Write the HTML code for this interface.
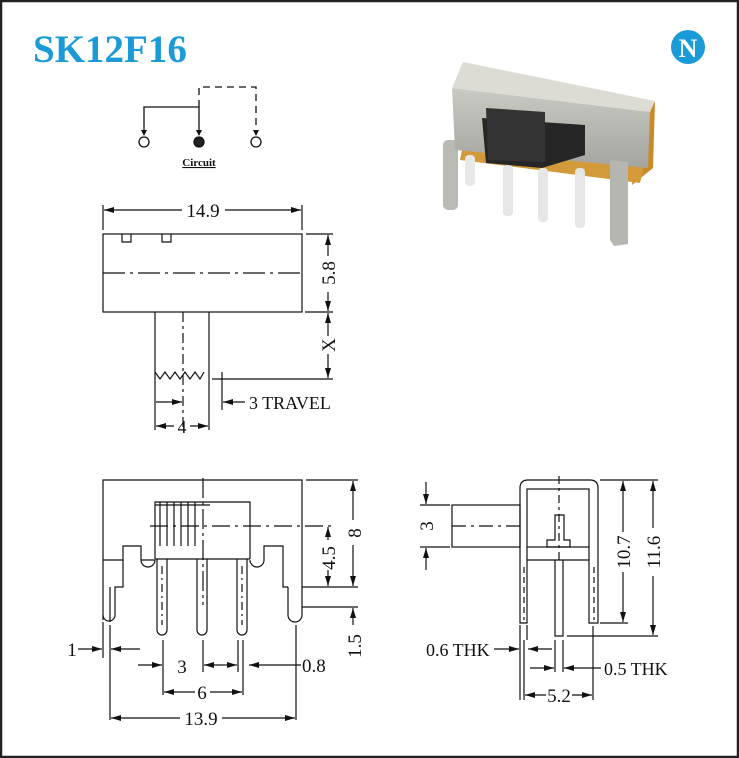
<!DOCTYPE html>
<html><head><style>
html,body{margin:0;padding:0;background:#fff;}
svg{display:block;}
text{font-family:"Liberation Serif",serif;fill:#111;}
</style></head><body>
<svg width="739" height="758" viewBox="0 0 739 758" xmlns="http://www.w3.org/2000/svg">
<defs>
<marker id="a" viewBox="0 0 10 6" refX="10" refY="3" markerWidth="10" markerHeight="6" orient="auto-start-reverse" markerUnits="userSpaceOnUse"><path d="M0,0L10,3L0,6z" fill="#111"/></marker>
<linearGradient id="m" x1="0" y1="0" x2="0" y2="1"><stop offset="0" stop-color="#c9cac3"/><stop offset="1" stop-color="#a4a59e"/></linearGradient>
</defs>
<rect x="1" y="1" width="737" height="756" fill="#fff" stroke="#222" stroke-width="2.5"/>
<text x="33" y="62" font-size="39" font-weight="bold" style="fill:#1a9ad6">SK12F16</text>
<circle cx="688" cy="47" r="17" fill="#1a9ad6"/>
<text x="688" y="57" font-size="26" font-weight="bold" text-anchor="middle" style="fill:#fff">N</text>

<g stroke="#111" stroke-width="1.3" fill="none">
<path d="M144,130V107H199V130"/>
<path d="M199,107V87H256V130" stroke-dasharray="7,5"/>
<circle cx="144" cy="142" r="5"/><circle cx="199" cy="142" r="5" fill="#222"/><circle cx="256" cy="142" r="5"/>
</g>
<path d="M141,130l3,6l3,-6z M196,130l3,6l3,-6z M253,130l3,6l3,-6z" fill="#111"/>
<text x="199" y="166" font-size="11" font-weight="bold" text-anchor="middle" text-decoration="underline">Circuit</text>

<g>
<polygon points="640,112 655,102 653,168 632,185" fill="#c98a2a"/>
<polygon points="463,145 645,163 640,183 460,160" fill="#d39a3a"/>
<rect x="465" y="155" width="10" height="31" rx="4" fill="#e8e8e6"/>
<rect x="503" y="165" width="10" height="51" rx="4" fill="#e6e6e4"/>
<rect x="538" y="168" width="10" height="54" rx="4" fill="#e6e6e4"/>
<rect x="575" y="168" width="10" height="60" rx="4" fill="#e6e6e4"/>
<rect x="443" y="140" width="15" height="70" rx="5" fill="#b9bab4"/>
<polygon points="452,88 650,112 648,168 455,150" fill="url(#m)"/>
<polygon points="610,160 628,162 628,244 614,246 610,240" fill="#b5b6b0"/>
<polygon points="463,62 655,101 650,112 452,88" fill="#dcdcd5"/>
<polygon points="482,118 585,125 585,155 542,168 486,163" fill="#262626"/>
<polygon points="486,108 545,112 545,162 488,160" fill="#333"/>
</g>

<g stroke="#111" stroke-width="1.2" fill="none">
<rect x="103" y="234" width="199" height="78"/>
<path d="M122,234v8h9v-8 M162,234v8h9v-8"/>
<path d="M103,273H302" stroke-dasharray="22,5,3,5"/>
<path d="M103,205V230 M302,205V230"/>
<path d="M155,312V430 M209,312V430"/>
<path d="M183,312V430" stroke-dasharray="10,4,3,4"/>
<path d="M155,372l5,7l5,-7l5,7l5,-7l5,7l5,-7l5,7l5,-7l5,7l4,-7"/>
<path d="M306,234H333 M305,312H333 M212,379H333 M222,372V410"/>
</g>
<g stroke="#111" stroke-width="1.2">
<line x1="104" y1="210" x2="182" y2="210" marker-start="url(#a)"/>
<line x1="225" y1="210" x2="301" y2="210" marker-end="url(#a)"/>
<line x1="328" y1="235" x2="328" y2="256" marker-start="url(#a)"/>
<line x1="328" y1="292" x2="328" y2="311" marker-end="url(#a)"/>
<line x1="328" y1="313" x2="328" y2="336" marker-start="url(#a)"/>
<line x1="328" y1="354" x2="328" y2="378" marker-end="url(#a)"/>
<line x1="156" y1="402" x2="182" y2="402" marker-end="url(#a)"/>
<line x1="223" y1="402" x2="245" y2="402" marker-start="url(#a)"/>
<line x1="156" y1="426" x2="174" y2="426" marker-start="url(#a)"/>
<line x1="190" y1="426" x2="208" y2="426" marker-end="url(#a)"/>
</g>
<text x="203" y="217" font-size="19" text-anchor="middle">14.9</text>
<text transform="translate(335,273) rotate(-90)" font-size="19" text-anchor="middle">5.8</text>
<text transform="translate(335,345) rotate(-90)" font-size="19" text-anchor="middle">X</text>
<text x="249" y="409" font-size="18">3 TRAVEL</text>
<text x="182" y="433" font-size="18" text-anchor="middle">4</text>

<g stroke="#111" stroke-width="1.2" fill="none">
<path d="M103,620V480H302V560"/>
<path d="M155,559V502H250V559"/>
<path d="M160,502V546 M167,502V546 M174,502V546 M181,502V546 M188,502V546 M195,502V546"/>
<path d="M155,505H210"/>
<path d="M150,526H335" stroke-dasharray="18,5,3,5"/>
<path d="M203,478V605" stroke-dasharray="20,4,3,4"/>
<path d="M103,560H123V546H141V560 A7,7 0 0 0 155,560 M141,560H155 M250,560 A7,7 0 0 0 264,560 M264,560V546H283V587H288"/>
<path d="M123,560V587H115V615 A6,6 0 0 1 103,615 M110,587V622"/>
<path d="M288,587V615 A7,7 0 0 0 302,615V560"/>
<path d="M155,559H250"/>
<path d="M157,559V630 A5,5 0 0 0 167,630V559 M197,559V630 A5,5 0 0 0 207,630V559 M237,559V630 A5,5 0 0 0 247,630V559"/>
<path d="M242,566V625 M162,566V625" stroke-dasharray="8,4,2,4"/>
<path d="M306,480H358 M302,587H358 M302,607H358"/>
<path d="M103,622V658 M110,625V720 M163,640V695 M203,640V672 M243,640V695 M238,640V672 M296,625V720"/>
</g>
<g stroke="#111" stroke-width="1.2">
<line x1="353" y1="481" x2="353" y2="520" marker-start="url(#a)"/>
<line x1="353" y1="545" x2="353" y2="586" marker-end="url(#a)"/>
<line x1="328" y1="527" x2="328" y2="540" marker-start="url(#a)"/>
<line x1="328" y1="570" x2="328" y2="586" marker-end="url(#a)"/>
<line x1="353" y1="608" x2="353" y2="625" marker-start="url(#a)"/>
<line x1="78" y1="649" x2="102" y2="649" marker-end="url(#a)"/>
<line x1="140" y1="649" x2="111" y2="649" marker-end="url(#a)"/>
<line x1="138" y1="665" x2="162" y2="665" marker-end="url(#a)"/>
<line x1="204" y1="665" x2="222" y2="665" marker-start="url(#a)"/>
<line x1="222" y1="665" x2="237" y2="665" marker-end="url(#a)"/>
<line x1="301" y1="665" x2="249" y2="665" marker-end="url(#a)"/>
<line x1="164" y1="692" x2="195" y2="692" marker-start="url(#a)"/>
<line x1="210" y1="692" x2="242" y2="692" marker-end="url(#a)"/>
<line x1="111" y1="718" x2="180" y2="718" marker-start="url(#a)"/>
<line x1="222" y1="718" x2="295" y2="718" marker-end="url(#a)"/>
</g>
<text transform="translate(361,533) rotate(-90)" font-size="19" text-anchor="middle">8</text>
<text transform="translate(335,558) rotate(-90)" font-size="19" text-anchor="middle">4.5</text>
<text transform="translate(361,646) rotate(-90)" font-size="19" text-anchor="middle">1.5</text>
<text x="72" y="656" font-size="19" text-anchor="middle">1</text>
<text x="182" y="673" font-size="19" text-anchor="middle">3</text>
<text x="302" y="672" font-size="19">0.8</text>
<text x="202" y="699" font-size="19" text-anchor="middle">6</text>
<text x="201" y="725" font-size="19" text-anchor="middle">13.9</text>

<g stroke="#111" stroke-width="1.2" fill="none">
<path d="M520,623V488 Q520,480 528,480H590 Q598,480 598,488V623H589V560H527V623Z"/>
<rect x="527" y="489" width="62" height="58"/>
<path d="M527,547V560M589,547V560"/>
<rect x="452" y="505" width="68" height="42"/>
<path d="M452,526H520" stroke-dasharray="14,5,3,5"/>
<path d="M559,476V560" stroke-dasharray="8,4,3,4"/>
<path d="M555,515H564V540H570V547H547V540H555Z"/>
<path d="M555,560V636H563V560"/>
<path d="M524,567V620" stroke-dasharray="6,4"/>
<path d="M594,567V620" stroke-dasharray="6,4"/>
<path d="M420,505H450 M420,547H450"/>
<path d="M600,480H658 M600,623H628 M567,636H658"/>
<path d="M520,625V640 M527,625V640 M520,640V700 M524,640V700 M593,626V700 M555,640V672 M563,640V672"/>
</g>
<g stroke="#111" stroke-width="1.2">
<line x1="426" y1="482" x2="426" y2="504" marker-end="url(#a)"/>
<line x1="426" y1="570" x2="426" y2="548" marker-end="url(#a)"/>
<line x1="623" y1="481" x2="623" y2="532" marker-start="url(#a)"/>
<line x1="623" y1="572" x2="623" y2="622" marker-end="url(#a)"/>
<line x1="653" y1="481" x2="653" y2="528" marker-start="url(#a)"/>
<line x1="653" y1="576" x2="653" y2="635" marker-end="url(#a)"/>
<line x1="494" y1="649" x2="519" y2="649" marker-end="url(#a)"/>
<line x1="552" y1="649" x2="528" y2="649" marker-end="url(#a)"/>
<line x1="530" y1="668" x2="554" y2="668" marker-end="url(#a)"/>
<line x1="601" y1="668" x2="564" y2="668" marker-end="url(#a)"/>
<line x1="525" y1="695" x2="546" y2="695" marker-start="url(#a)"/>
<line x1="572" y1="695" x2="592" y2="695" marker-end="url(#a)"/>
</g>
<text transform="translate(433,526) rotate(-90)" font-size="19" text-anchor="middle">3</text>
<text transform="translate(630,552) rotate(-90)" font-size="19" text-anchor="middle">10.7</text>
<text transform="translate(660,552) rotate(-90)" font-size="19" text-anchor="middle">11.6</text>
<text x="426" y="656" font-size="18">0.6 THK</text>
<text x="604" y="675" font-size="18">0.5 THK</text>
<text x="559" y="702" font-size="19" text-anchor="middle">5.2</text>
</svg>
</body></html>
